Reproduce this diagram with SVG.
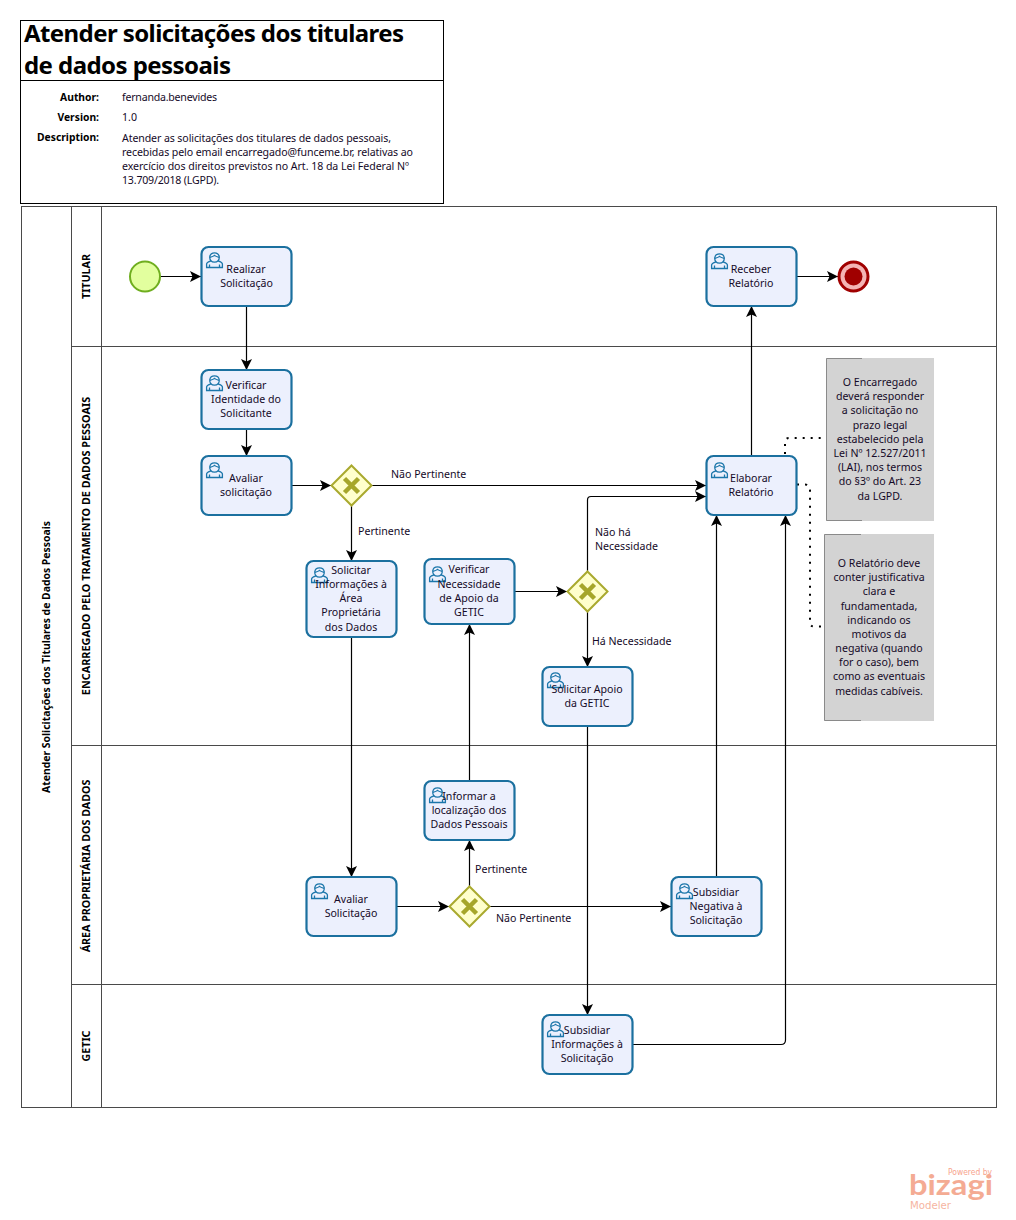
<svg xmlns="http://www.w3.org/2000/svg" width="1016" height="1220" viewBox="0 0 1016 1220">
<style>
text{font-family:"Noto Sans","Open Sans",sans-serif;font-size:10.6px;fill:#150a28}
.c{text-anchor:middle}
.r{text-anchor:end;font-weight:700;fill:#000;font-size:10.3px}
.h{font-size:24px;font-weight:700;fill:#000}
.v{text-anchor:middle;font-weight:700;fill:#000;font-size:10.7px}
.b{fill:none;stroke:#000;stroke-width:1}
.l{fill:none;stroke:#4a4a4a;stroke-width:1}
.t{fill:#ecf0fd;stroke:#1b709f;stroke-width:2.2}
.g{fill:#ffffcc;stroke:#a9a92e;stroke-width:2}
.x{fill:none;stroke:#a6a62a;stroke-width:4.5}
.f{fill:none;stroke:#000;stroke-width:1.2;marker-end:url(#a)}
.d{fill:none;stroke:#000;stroke-width:2;stroke-dasharray:2 6}
.n{fill:#d3d3d3}
.i{fill:#ecf0fd;stroke:#1b76aa;stroke-width:1.3}
</style>
<defs>
<marker id="a" markerUnits="userSpaceOnUse" markerWidth="13" markerHeight="13" refX="11" refY="6" orient="auto"><path d="M0 0.500L11 6L0 11.500L2.500 6Z" fill="#000"/></marker>
<symbol id="u" overflow="visible"><path class="i" d="M.6 15.500V12C.6 10.400 2.600 9.600 5 8.800C3.800 7.600 3.600 6 3.800 4.600C4.200 2 6.200.8 8.500.8S12.800 2 13.200 4.600C13.400 6 13.200 7.600 12 8.800C14.400 9.600 16.400 10.400 16.400 12V15.500Z"/><path class="i" fill="none" d="M3.800 5.400C6 4.800 7.500 4.400 8.500 3.400C9.500 4.400 11 4.800 13.200 5.400M5 8.800C6.500 10.600 10.500 10.600 12 8.800M3.500 15.500V12.500M13.500 15.500V12.500"/></symbol>
</defs>

<g id="header">
<rect class="b" x="20.500" y="20.500" width="423" height="183" fill="#fff"/>
<path class="b" d="M20.500 80.500H443.500"/>
<text class="h" x="24" y="42" textLength="380">Atender solicitações dos titulares</text>
<text class="h" x="24" y="74" textLength="207">de dados pessoais</text>
<text class="r" x="99" y="101">Author:</text><text x="122" y="101" textLength="95">fernanda.benevides</text>
<text class="r" x="99" y="121">Version:</text><text x="122" y="121">1.0</text>
<text class="r" x="99" y="141">Description:</text>
<text x="122" y="142" textLength="269">Atender as solicitações dos titulares de dados pessoais,</text>
<text x="122" y="156" textLength="291">recebidas pelo email encarregado@funceme.br, relativas ao</text>
<text x="122" y="170" textLength="287">exercício dos direitos previstos no Art. 18 da Lei Federal Nº</text>
<text x="122" y="184" textLength="97">13.709/2018 (LGPD).</text>
</g>

<g id="pool">
<rect class="l" x="21.500" y="206.500" width="975" height="901" fill="#fff"/>
<path class="l" d="M71.500 206.500V1107.500M101.500 206.500V1107.500M71.500 346.500H996.500M71.500 745.500H996.500M71.500 984.500H996.500"/>
<text class="v" style="font-size:10.4px" transform="translate(50 657) rotate(-90)">Atender Solicitações dos Titulares de Dados Pessoais</text>
<text class="v" transform="translate(90 276.500) rotate(-90)">TITULAR</text>
<text class="v" style="font-size:10.85px" transform="translate(90 546) rotate(-90)">ENCARREGADO PELO TRATAMENTO DE DADOS PESSOAIS</text>
<text class="v" transform="translate(90 866) rotate(-90)">ÁREA PROPRIETÁRIA DOS DADOS</text>
<text class="v" transform="translate(90 1046) rotate(-90)">GETIC</text>
</g>

<g id="connectors">
<path class="f" d="M160 276.500H201"/>
<path class="f" d="M246.500 306V370"/>
<path class="f" d="M246.500 429V456"/>
<path class="f" d="M292 485.500H331"/>
<path class="f" d="M372 485.500H706"/>
<path class="f" d="M351.500 506V561"/>
<path class="f" d="M351.500 637V877"/>
<path class="f" d="M515 591.500H567"/>
<path class="f" d="M587.500 571V500Q587.500 496.500 591 496.500H706"/>
<path class="f" d="M587.500 612V667"/>
<path class="f" d="M587.500 726V1015"/>
<path class="f" d="M397 906.500H449"/>
<path class="f" d="M469.500 886V840"/>
<path class="f" d="M469.500 781V624"/>
<path class="f" d="M490 906.500H671"/>
<path class="f" d="M716.500 877V515"/>
<path class="f" d="M633 1044.500H781Q785.500 1044.500 785.500 1040V515"/>
<path class="f" d="M751.500 456V306"/>
<path class="f" d="M797 276.500H838"/>
<path class="d" d="M785 454V442Q785 438 789 438H826"/>
<path class="d" d="M797 484.500H805Q810 484.500 810 490V622Q810 626.500 814 626.500H824"/>
<text x="391" y="478">Não Pertinente</text>
<text x="358" y="535">Pertinente</text>
<text x="595" y="536">Não há</text>
<text x="595" y="550">Necessidade</text>
<text x="592" y="645">Há Necessidade</text>
<text x="475" y="873">Pertinente</text>
<text x="496" y="922">Não Pertinente</text>
</g>

<g id="start"><circle cx="145" cy="276.500" r="15" fill="#e2ff9e" stroke="#6fae1f" stroke-width="2"/></g>
<g id="end"><circle cx="853.500" cy="276.500" r="14.500" fill="#f4b4b4" stroke="#a00000" stroke-width="3"/><circle cx="853.500" cy="276.500" r="9" fill="#a00000"/></g>

<g id="t1"><rect class="t" x="201.500" y="247" width="90" height="59" rx="7"/><use href="#u" x="206" y="252"/><text class="c" x="246" y="273">Realizar</text><text class="c" x="246.500" y="287">Solicitação</text></g>
<g id="t2"><rect class="t" x="201.500" y="370" width="90" height="59" rx="7"/><use href="#u" x="206" y="375"/><text class="c" x="246" y="389">Verificar</text><text class="c" x="246" y="403">Identidade do</text><text class="c" x="246" y="417">Solicitante</text></g>
<g id="t3"><rect class="t" x="201.500" y="456" width="90" height="59" rx="7"/><use href="#u" x="206" y="462"/><text class="c" x="246" y="482">Avaliar</text><text class="c" x="246" y="496">solicitação</text></g>
<g id="t4"><rect class="t" x="706.500" y="247" width="90" height="59" rx="7"/><use href="#u" x="711" y="253"/><text class="c" x="751" y="273">Receber</text><text class="c" x="751" y="287">Relatório</text></g>
<g id="t5"><rect class="t" x="706.500" y="456" width="90" height="59" rx="7"/><use href="#u" x="711" y="462"/><text class="c" x="751" y="482">Elaborar</text><text class="c" x="751" y="496">Relatório</text></g>
<g id="t6"><rect class="t" x="306.500" y="561" width="90" height="76" rx="7"/><use href="#u" x="311" y="567"/><text class="c" x="351" y="574">Solicitar</text><text class="c" x="351" y="588">Informações à</text><text class="c" x="351" y="602">Área</text><text class="c" x="351" y="616">Proprietária</text><text class="c" x="351" y="631">dos Dados</text></g>
<g id="t7"><rect class="t" x="424.500" y="559" width="90" height="65" rx="7"/><use href="#u" x="429" y="566"/><text class="c" x="469" y="573">Verificar</text><text class="c" x="469" y="588">Necessidade</text><text class="c" x="469" y="602">de Apoio da</text><text class="c" x="469" y="616">GETIC</text></g>
<g id="t8"><rect class="t" x="542.500" y="667" width="90" height="59" rx="7"/><use href="#u" x="547" y="672"/><text class="c" x="587" y="693">Solicitar Apoio</text><text class="c" x="587" y="707">da GETIC</text></g>
<g id="t9"><rect class="t" x="424.500" y="781" width="90" height="59" rx="7"/><use href="#u" x="429" y="787"/><text class="c" x="469" y="800">Informar a</text><text class="c" x="469" y="814">localização dos</text><text class="c" x="469" y="828">Dados Pessoais</text></g>
<g id="t10"><rect class="t" x="306.500" y="877" width="90" height="59" rx="7"/><use href="#u" x="311" y="883"/><text class="c" x="351" y="903">Avaliar</text><text class="c" x="351" y="917">Solicitação</text></g>
<g id="t11"><rect class="t" x="671.500" y="877" width="90" height="59" rx="7"/><use href="#u" x="676" y="883"/><text class="c" x="716" y="896">Subsidiar</text><text class="c" x="716" y="910">Negativa à</text><text class="c" x="716" y="924">Solicitação</text></g>
<g id="t12"><rect class="t" x="542.500" y="1015" width="90" height="59" rx="7"/><use href="#u" x="547" y="1021"/><text class="c" x="587" y="1034">Subsidiar</text><text class="c" x="587" y="1048">Informações à</text><text class="c" x="587" y="1062">Solicitação</text></g>

<g id="g1"><path class="g" d="M351.500 465.500L371.500 485.500L351.500 505.500L331.500 485.500Z"/><path class="x" d="M344.500 478.500L358.500 492.500M358.500 478.500L344.500 492.500"/></g>
<g id="g2"><path class="g" d="M587.500 571.500L607.500 591.500L587.500 611.500L567.500 591.500Z"/><path class="x" d="M580.500 584.500L594.500 598.500M594.500 584.500L580.500 598.500"/></g>
<g id="g3"><path class="g" d="M469.500 886.500L489.500 906.500L469.500 926.500L449.500 906.500Z"/><path class="x" d="M462.500 899.500L476.500 913.500M476.500 899.500L462.500 913.500"/></g>

<g id="n1"><rect class="n" x="826" y="358" width="108" height="163"/><path d="M826.500 358.500H862M826.500 358.500V520.500H862" fill="none" stroke="#8a8a8a"/>
<text class="c" x="880" y="386">O Encarregado</text><text class="c" x="880" y="400">deverá responder</text><text class="c" x="880" y="414">a solicitação no</text><text class="c" x="880" y="429">prazo legal</text><text class="c" x="880" y="443">estabelecido pela</text><text class="c" x="880" y="457">Lei Nº 12.527/2011</text><text class="c" x="880" y="471">(LAI), nos termos</text><text class="c" x="880" y="485">do §3º do Art. 23</text><text class="c" x="880" y="500">da LGPD.</text></g>
<g id="n2"><rect class="n" x="824" y="534" width="110" height="187"/><path d="M824.500 534.500H861M824.500 534.500V720.500H861" fill="none" stroke="#8a8a8a"/>
<text class="c" x="879" y="567">O Relatório deve</text><text class="c" x="879" y="581">conter justificativa</text><text class="c" x="879" y="595">clara e</text><text class="c" x="879" y="610">fundamentada,</text><text class="c" x="879" y="624">indicando os</text><text class="c" x="879" y="638">motivos da</text><text class="c" x="879" y="652">negativa (quando</text><text class="c" x="879" y="666">for o caso), bem</text><text class="c" x="879" y="680">como as eventuais</text><text class="c" x="879" y="695">medidas cabíveis.</text></g>

<g id="logo">
<text x="948" y="1175" style="font-size:8px;fill:#f7a48c;font-family:'DejaVu Sans',sans-serif" textLength="44" lengthAdjust="spacingAndGlyphs">Powered by</text>
<text x="909" y="1195" style="font-size:28px;font-weight:700;fill:#f4ab93;font-family:Lato,sans-serif" textLength="84" lengthAdjust="spacingAndGlyphs">bizagi</text>
<text x="910" y="1209" style="font-size:10.500px;fill:#f6b5a1;font-family:'DejaVu Sans',sans-serif" textLength="41" lengthAdjust="spacingAndGlyphs">Modeler</text>
</g>
</svg>
